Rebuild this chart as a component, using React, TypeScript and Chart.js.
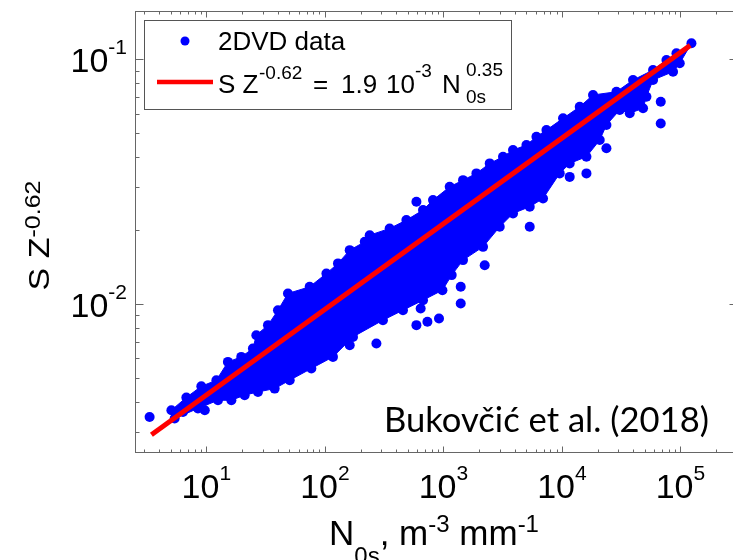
import React, { useEffect, useRef } from "react";
import { Chart, registerables } from "chart.js";

Chart.register(...registerables);

// ---------- values ----------
// upper edge of the dense 2DVD point cloud (left -> right)
const upperEdgeX = [5.07, 6.78, 9.07, 12.15, 15.2, 19.7, 24.7, 26.4, 33.1, 40.2, 48.8, 74.4, 103, 129, 162, 217, 239, 352, 487, 673, 817, 1130, 1464, 1899, 2459, 3184, 3867, 5018, 6094, 7401, 10220, 14130, 18300, 28830, 39810, 58720, 76200, 92500, 123800];
const upperEdgeY = [0.00369, 0.00416, 0.00462, 0.00489, 0.00581, 0.00609, 0.00659, 0.00747, 0.00821, 0.00945, 0.01106, 0.01177, 0.01335, 0.01467, 0.01662, 0.01797, 0.01913, 0.02038, 0.02204, 0.02422, 0.0266, 0.03015, 0.0321, 0.0342, 0.03757, 0.04, 0.04259, 0.04464, 0.04828, 0.0514, 0.0574, 0.064, 0.0715, 0.0737, 0.0823, 0.0904, 0.0993, 0.1058, 0.1162];
// lower edge of the dense point cloud (left -> right)
const lowerEdgeX = [5.4, 8.49, 12.53, 16.26, 21.05, 27.25, 37.7, 50.5, 76.9, 117, 172.6, 309, 456, 673, 981, 1175, 1464, 2159, 2987, 3867, 5350, 6927, 9581, 11630, 16100, 20840, 23740, 30740, 37350, 48350, 51650, 58720, 86600, 98650];
const lowerEdgeY = [0.00341, 0.00375, 0.00405, 0.00405, 0.00425, 0.00438, 0.00452, 0.00489, 0.00546, 0.00609, 0.00735, 0.0086, 0.00945, 0.01038, 0.0114, 0.01314, 0.01513, 0.01714, 0.0207, 0.02347, 0.025, 0.027, 0.0342, 0.03757, 0.04, 0.0468, 0.0539, 0.0621, 0.0602, 0.0631, 0.0703, 0.0823, 0.089, 0.0963];
// isolated 2DVD points outside the dense core
const isolatedX = [3.32, 6.35, 9.7, 592, 592, 733, 918, 643, 1400, 1400, 272, 162, 2231, 5350, 23740, 16100, 11630, 68200, 68200];
const isolatedY = [0.00346, 0.00363, 0.00369, 0.0262, 0.00821, 0.00847, 0.00874, 0.0096, 0.01177, 0.01006, 0.00691, 0.0068, 0.01443, 0.0207, 0.0433, 0.0342, 0.0331, 0.0671, 0.0547];
// fitted power law S Z^-0.62 = 1.9e-3 N0s^0.35 (end points)
const fitX = [3.44, 121000];
const fitY = [0.00293, 0.114];

const xTickValues = [10, 100, 1000, 10000, 100000];
const xTickExponents = ["1", "2", "3", "4", "5"];
const yTickValues = [0.01, 0.1];
const yTickExponents = ["-2", "-1"];

const seriesLabel = "2DVD data";
const citation = "Bukovčić et al. (2018)";

const FONT = '"Liberation Sans", Arial, Helvetica, sans-serif';
const BLUE = "rgb(0,0,255)";
const RED = "rgb(255,0,0)";
const W = 760;
const H = 560;

type Part = [string, number, number];

function drawParts(ctx: CanvasRenderingContext2D, parts: Part[], x: number, y: number) {
  let cx = x;
  for (const [s, size, dy] of parts) {
    ctx.font = `${size}px ${FONT}`;
    ctx.fillText(s, cx, y + dy);
    cx += ctx.measureText(s).width;
  }
  return cx - x;
}
function partsWidth(ctx: CanvasRenderingContext2D, parts: Part[]) {
  let w = 0;
  for (const [s, size] of parts) {
    ctx.font = `${size}px ${FONT}`;
    w += ctx.measureText(s).width;
  }
  return w;
}

const decor = {
  id: "decor",
  afterDraw(chart: any) {
    const ctx: CanvasRenderingContext2D = chart.ctx;
    const { left, right, top, bottom } = chart.chartArea;
    const xs = chart.scales.x;
    const ys = chart.scales.y;
    ctx.save();

    // frame
    ctx.strokeStyle = "#666";
    ctx.lineWidth = 1;
    const L = Math.round(left) + 0.5, R = Math.round(right) + 0.5, T = Math.round(top) + 0.5, B = Math.round(bottom) + 0.5;
    ctx.strokeRect(L, T, R - L, B - T);

    // ticks (inward, MATLAB style)
    const xMinor: number[] = [];
    for (let d = 1; d <= 1e5; d *= 10) for (let m = 2; m <= 9; m++) { const v = m * d; if (v > xs.min && v < xs.max) xMinor.push(v); }
    const yMinor: number[] = [];
    for (let d = 0.001; d <= 0.1; d *= 10) for (let m = 2; m <= 9; m++) { const v = m * d; if (v > ys.min && v < ys.max) yMinor.push(v); }
    ctx.beginPath();
    const xt = (v: number, len: number) => {
      const p = Math.round(xs.getPixelForValue(v)) + 0.5;
      ctx.moveTo(p, B); ctx.lineTo(p, B - len);
      ctx.moveTo(p, T); ctx.lineTo(p, T + len);
    };
    const yt = (v: number, len: number) => {
      const p = Math.round(ys.getPixelForValue(v)) + 0.5;
      ctx.moveTo(L, p); ctx.lineTo(L + len, p);
      ctx.moveTo(R, p); ctx.lineTo(R - len, p);
    };
    xMinor.forEach((v) => xt(v, 3));
    xTickValues.forEach((v) => xt(v, 6));
    yMinor.forEach((v) => yt(v, 4));
    yTickValues.forEach((v) => yt(v, 8));
    ctx.stroke();

    ctx.fillStyle = "#000";
    ctx.textAlign = "left";
    ctx.textBaseline = "alphabetic";

    // x tick labels 10^n
    xTickValues.forEach((v, i) => {
      const px = xs.getPixelForValue(v);
      const parts: Part[] = [["10", 34, 0], [xTickExponents[i], 21, -18]];
      const w = partsWidth(ctx, parts);
      drawParts(ctx, parts, px - w / 2, bottom + 46);
    });
    // y tick labels 10^n
    yTickValues.forEach((v, i) => {
      const py = ys.getPixelForValue(v);
      const parts: Part[] = [["10", 34, 0], [yTickExponents[i], 21, -17.5]];
      const w = partsWidth(ctx, parts);
      drawParts(ctx, parts, left - 8 - w, py + 12.4);
    });

    // x axis title
    {
      const parts: Part[] = [["N", 35, 0], ["0s", 24, 19], [",", 35, 0], [" m", 35, 0], ["-3", 24, -13], [" mm", 35, 0], ["-1", 24, -13]];
      const w = partsWidth(ctx, parts);
      drawParts(ctx, parts, 434 - w / 2, 545);
    }
    // y axis title (rotated)
    {
      ctx.save();
      ctx.translate(49, (top + bottom) / 2 + 4);
      ctx.rotate(-Math.PI / 2);
      ctx.scale(1, 0.86);
      const parts: Part[] = [["S Z", 34, 0], ["-0.62", 25, -10]];
      const w = partsWidth(ctx, parts);
      drawParts(ctx, parts, -w / 2, 0);
      ctx.restore();
    }

    // legend
    ctx.fillStyle = "#fff";
    ctx.fillRect(144.5, 20.5, 367, 89);
    ctx.strokeStyle = "#555";
    ctx.lineWidth = 1;
    ctx.strokeRect(144.5, 20.5, 367, 89);
    ctx.fillStyle = BLUE;
    ctx.beginPath();
    ctx.arc(185, 41, 4.5, 0, Math.PI * 2);
    ctx.fill();
    ctx.strokeStyle = RED;
    ctx.lineWidth = 4.5;
    ctx.beginPath();
    ctx.moveTo(157, 82);
    ctx.lineTo(213, 82);
    ctx.stroke();
    ctx.fillStyle = "#000";
    ctx.font = `26px ${FONT}`;
    ctx.fillText(seriesLabel, 218, 50);
    const fitParts: [string, number, number, number][] = [
      ["S Z", 218, 26, 93],
      ["-0.62", 259, 19, 79],
      ["=", 313, 26, 93],
      ["1.9", 341, 26, 93],
      ["10", 386, 26, 93],
      ["-3", 415, 19, 77],
      ["N", 442, 26, 93],
      ["0.35", 466, 19, 76],
      ["0s", 466, 19, 103],
    ];
    for (const [s, x, size, y] of fitParts) {
      ctx.font = `${size}px ${FONT}`;
      ctx.fillText(s, x, y);
    }

    // citation
    ctx.font = `34px Lato, ${FONT}`;
    const cw = ctx.measureText(citation).width;
    const size = (34 * 325) / cw;
    ctx.font = `${size}px Lato, ${FONT}`;
    ctx.fillText(citation, 384, 432);

    ctx.restore();
  },
};

export default function App() {
  const ref = useRef<HTMLCanvasElement | null>(null);
  useEffect(() => {
    if (!ref.current) return;
    const dots = [
      ...upperEdgeX.map((x, i) => ({ x, y: upperEdgeY[i] })),
      ...lowerEdgeX.map((x, i) => ({ x, y: lowerEdgeY[i] })),
      ...isolatedX.map((x, i) => ({ x, y: isolatedY[i] })),
    ];
    const core = [
      ...upperEdgeX.map((x, i) => ({ x, y: upperEdgeY[i] })),
      ...lowerEdgeX.map((x, i) => ({ x, y: lowerEdgeY[i] })).reverse(),
    ];
    const fit = fitX.map((x, i) => ({ x, y: fitY[i] }));
    const chart = new Chart(ref.current, {
      type: "scatter",
      data: {
        datasets: [
          { type: "line", label: "fit", data: fit, borderColor: RED, borderWidth: 5, pointRadius: 0, fill: false, order: 0 } as any,
          { label: seriesLabel, data: dots, backgroundColor: BLUE, borderColor: BLUE, borderWidth: 0, pointRadius: 5, pointHoverRadius: 5, order: 1 } as any,
          { type: "line", label: "core", data: core, backgroundColor: BLUE, borderColor: BLUE, borderWidth: 1, pointRadius: 0, fill: "shape", tension: 0, order: 2 } as any,
        ],
      },
      options: {
        responsive: false,
        animation: false,
        events: [],
        layout: { padding: { left: 135, top: 11, right: W - 737, bottom: H - 452 } },
        scales: {
          x: {
            type: "logarithmic", min: 2.5, max: 3e5,
            grid: { display: false }, border: { display: false }, ticks: { display: false },
            afterFit: (s: any) => { s.height = 0; },
          },
          y: {
            type: "logarithmic", min: 0.00249, max: 0.1575,
            grid: { display: false }, border: { display: false }, ticks: { display: false },
            afterFit: (s: any) => { s.width = 0; },
          },
        },
        plugins: { legend: { display: false }, tooltip: { enabled: false } },
      } as any,
      plugins: [decor],
    });
    return () => chart.destroy();
  }, []);
  return (
    <div style={{ position: "fixed", left: 0, top: 0, width: 733, height: 560, overflow: "hidden", background: "#fff" }}>
      <canvas ref={ref} width={W} height={H} style={{ display: "block", width: W, height: H }} />
    </div>
  );
}
